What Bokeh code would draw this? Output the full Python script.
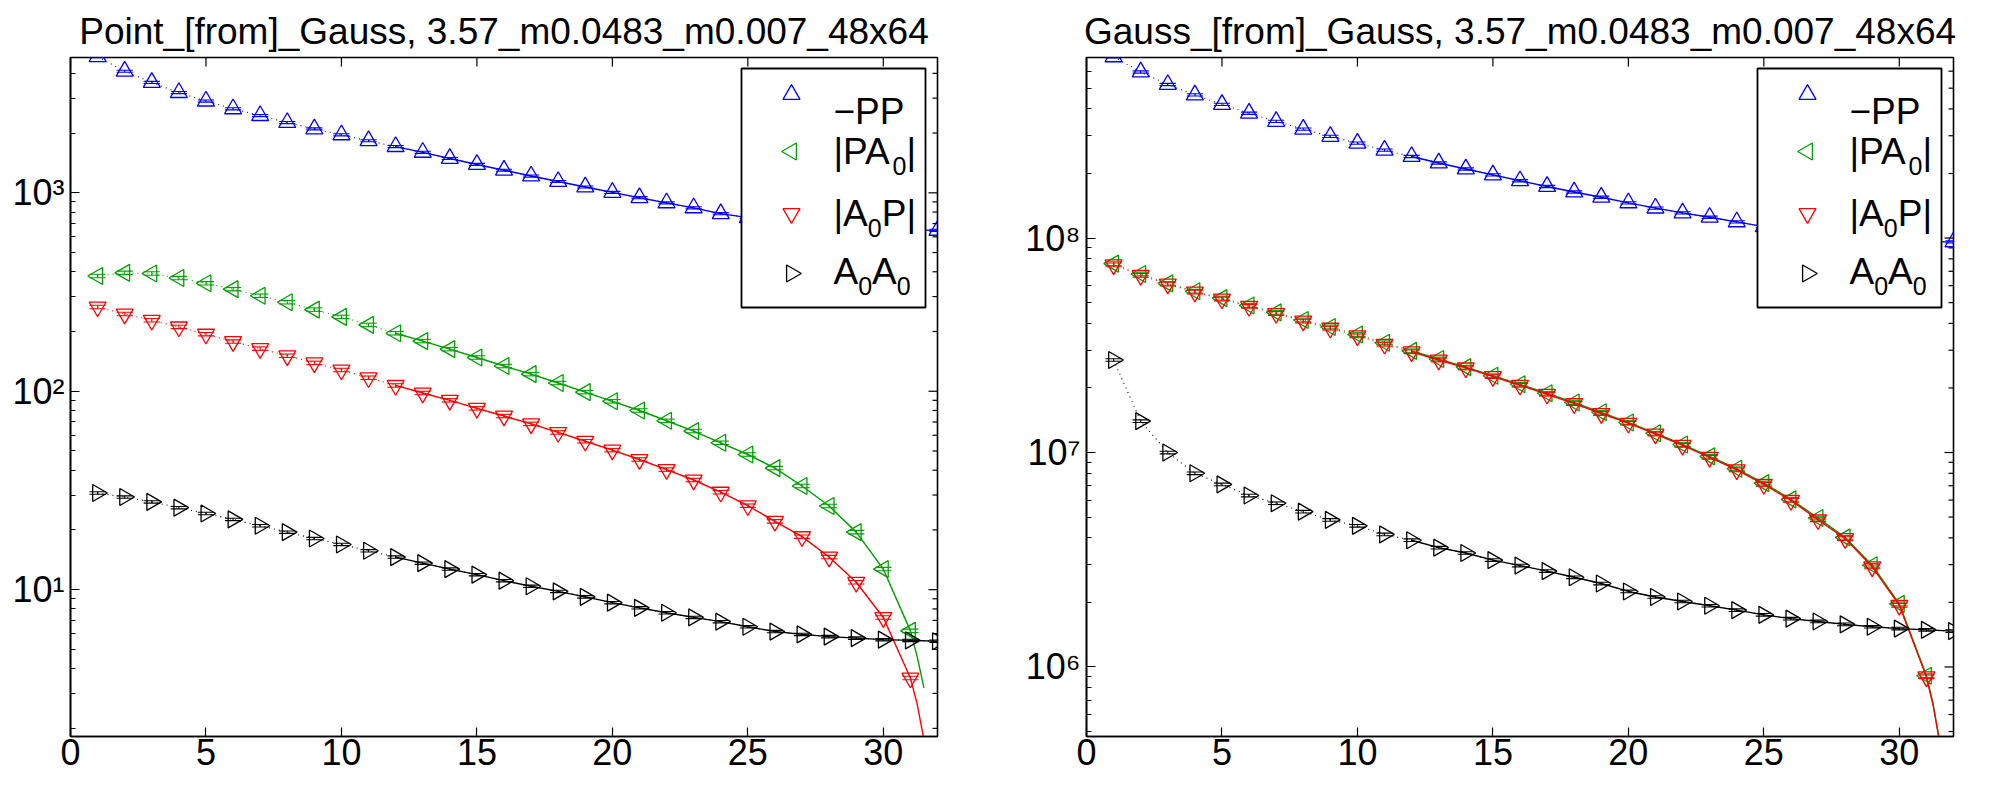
import numpy as np
from bokeh.plotting import figure
from bokeh.models import Range1d, FixedTicker, BoxAnnotation, CustomJSTickFormatter
from bokeh.core.properties import value
from bokeh.layouts import row
from bokeh.embed import file_html
from bokeh.resources import INLINE

# ---------------- data ----------------
t32 = list(range(1, 33))
t31 = list(range(1, 32))
x_ticks = [0, 5, 10, 15, 20, 25, 30]
x_max = 32

# legend labels: pieces of (text, is_subscript)
leg_labels = [
    [("\u2212PP", False)],
    [("|PA", False), ("0", True), ("|", False)],
    [("|A", False), ("0", True), ("P|", False)],
    [("A", False), ("0", True), ("A", False), ("0", True)],
]

# Left panel: Point_[from]_Gauss
L_title = "Point_[from]_Gauss, 3.57_m0.0483_m0.007_48x64"
L_ylim = (1.82, 4808)
L_yticks = [10, 100, 1000]
L_pp = [4850, 4100, 3600, 3200, 2900, 2650, 2450, 2260, 2100, 1960, 1830, 1710, 1600, 1490,
        1390, 1300, 1215, 1140, 1070, 1005, 945, 890, 840, 785, 750, 722, 698, 680, 666, 656,
        650, 647]
L_pa0 = [381, 395, 392, 372, 350, 327, 303, 281, 258, 237, 216, 196, 179, 163, 148, 134, 122,
         110, 99, 89, 80, 71, 63, 55, 48, 41, 33.3, 26.4, 19.5, 12.7, 6.2]
L_a0p = [266, 245, 228, 211, 194, 178, 164, 151, 139, 128, 117, 107, 98, 90, 82, 75, 68.5, 62,
         56, 50.5, 45.3, 40.3, 35.7, 31, 26.5, 22.1, 18.5, 14.6, 10.9, 7.24, 3.59]
L_a0a0 = [30.7, 29.3, 27.7, 25.9, 24.2, 22.6, 21.0, 19.5, 18.1, 16.9, 15.7, 14.6, 13.6, 12.7,
          11.9, 11.1, 10.4, 9.8, 9.2, 8.6, 8.1, 7.65, 7.25, 6.9, 6.5, 6.15, 5.95, 5.8, 5.7, 5.6,
          5.55, 5.5]
# fit curves
fit_t_cosh = list(range(12, 33))
fit_t_sinh = list(range(12, 32)) + [31.25, 31.5]
L_pp_fit = L_pp[11:]
L_a0a0_fit = L_a0a0[11:]
L_pa0_fit = L_pa0[11:] + [4.6, 3.2]
L_a0p_fit = L_a0p[11:] + [2.65, 1.75]

# Right panel: Gauss_[from]_Gauss
R_title = "Gauss_[from]_Gauss, 3.57_m0.0483_m0.007_48x64"
R_ylim = (4.74e5, 6.95e8)
R_yticks = [1e6, 1e7, 1e8]
R_pp = [7.0e8, 5.95e8, 5.2e8, 4.65e8, 4.2e8, 3.82e8, 3.5e8, 3.22e8, 2.98e8, 2.77e8, 2.57e8,
        2.4e8, 2.24e8, 2.1e8, 1.97e8, 1.85e8, 1.74e8, 1.64e8, 1.55e8, 1.46e8, 1.38e8, 1.31e8,
        1.25e8, 1.19e8, 1.13e8, 1.083e8, 1.045e8, 1.015e8, 9.9e7, 9.74e7, 9.63e7, 9.6e7]
R_pa0 = [7.6e7, 6.8e7, 6.15e7, 5.65e7, 5.25e7, 4.85e7, 4.5e7, 4.15e7, 3.85e7, 3.55e7, 3.25e7,
         2.98e7, 2.73e7, 2.5e7, 2.28e7, 2.08e7, 1.89e7, 1.71e7, 1.54e7, 1.38e7, 1.23e7, 1.09e7,
         9.6e6, 8.4e6, 7.2e6, 6.05e6, 4.95e6, 4.02e6, 2.98e6, 1.97e6, 9.1e5]
R_a0p = [7.5e7, 6.7e7, 6.1e7, 5.6e7, 5.2e7, 4.8e7, 4.45e7, 4.1e7, 3.8e7, 3.5e7, 3.2e7, 2.95e7,
         2.7e7, 2.48e7, 2.26e7, 2.06e7, 1.87e7, 1.69e7, 1.52e7, 1.37e7, 1.22e7, 1.08e7, 9.5e6,
         8.3e6, 7.1e6, 5.98e6, 4.86e6, 3.97e6, 2.93e6, 1.94e6, 9.0e5]
R_a0a0 = [2.7e7, 1.4e7, 1.0e7, 8.0e6, 7.1e6, 6.3e6, 5.8e6, 5.3e6, 4.85e6, 4.55e6, 4.15e6, 3.9e6,
          3.6e6, 3.4e6, 3.15e6, 2.97e6, 2.8e6, 2.62e6, 2.45e6, 2.25e6, 2.12e6, 2.02e6, 1.93e6,
          1.84e6, 1.75e6, 1.68e6, 1.63e6, 1.58e6, 1.54e6, 1.51e6, 1.49e6, 1.47e6]
R_pp_fit = R_pp[11:]
R_a0a0_fit = R_a0a0[11:]
R_pa0_fit = R_pa0[11:] + [6.7e5, 4.4e5]
R_a0p_fit = R_a0p[11:] + [6.6e5, 4.4e5]

# relative statistical errors (error-bar half heights)
err_pp, err_pa0, err_a0p, err_a0a0 = 0.012, 0.02, 0.02, 0.014

# ---------------- styling / geometry ----------------
FONT = "Liberation Sans"
BLUE, GREEN, RED, BLACK = "#0000ff", "#00a000", "#ff0000", "#000000"
FIG_H, B_TOP, B_BOT = 780, 57, 44
FW = 867
FH = FIG_H - B_TOP - B_BOT
# advance widths (em) of Liberation Sans for the legend pieces
ADV = {"|": 0.26, "P": 0.667, "A": 0.667, "0": 0.556, "\u2212": 0.584}
LEG_MAIN, LEG_SUB = 37, 25

SUP = CustomJSTickFormatter(code="""
const sup = {"-":"\u207b","0":"\u2070","1":"\u00b9","2":"\u00b2","3":"\u00b3","4":"\u2074",
             "5":"\u2075","6":"\u2076","7":"\u2077","8":"\u2078","9":"\u2079"};
const e = Math.round(Math.log10(tick));
return "10" + String(e).split("").map(c => sup[c]).join("");
""")


def minor_ticks(lo, hi):
    out = []
    for k in range(int(np.floor(np.log10(lo))), int(np.ceil(np.log10(hi))) + 1):
        for m in range(2, 10):
            v = m * 10.0 ** k
            if lo <= v <= hi:
                out.append(v)
    return out


def style_axis(ax):
    ax.axis_line_color = "black"
    ax.axis_line_width = 1.6
    ax.major_tick_line_color = "black"
    ax.minor_tick_line_color = "black"
    ax.major_tick_line_width = 1.2
    ax.minor_tick_line_width = 1.2
    ax.major_tick_in = 9
    ax.major_tick_out = 0
    ax.minor_tick_in = 5
    ax.minor_tick_out = 0
    ax.major_label_text_font = FONT
    ax.major_label_text_color = "black"
    ax.major_label_text_font_size = "36px"


def errorbars(p, t, v, rel, color):
    t = np.asarray(t, float)
    v = np.asarray(v, float)
    lo, hi = v * (1 - rel), v * (1 + rel)
    p.segment(t, lo, t, hi, line_color=color, line_width=1.1)
    p.segment(t - 0.3, lo, t + 0.3, lo, line_color=color, line_width=1.1)
    p.segment(t - 0.3, hi, t + 0.3, hi, line_color=color, line_width=1.1)


def panel(title, ylim, yticks, pp, pa0, a0p, a0a0, pp_fit, pa0_fit, a0p_fit, a0a0_fit,
          width, bl, br):
    lo, hi = np.log10(ylim[0]), np.log10(ylim[1])

    def X(dx):          # pixels from the frame's left edge -> data x
        return x_max * dx / FW

    def Y(dy):          # pixels from the frame's top edge -> data y (log axis)
        return 10 ** (hi - dy / FH * (hi - lo))

    p = figure(width=width, height=FIG_H, output_backend="svg", toolbar_location=None,
               y_axis_type="log", x_range=Range1d(0, x_max), y_range=Range1d(*ylim),
               min_border_left=bl, min_border_right=br, min_border_top=B_TOP,
               min_border_bottom=B_BOT)
    p.title.text = title
    p.title.text_font = FONT
    p.title.text_font_size = "37px"
    p.title.text_font_style = "normal"
    p.title.text_color = "black"
    p.title.align = "center"
    p.title.standoff = 12
    p.grid.visible = False
    p.outline_line_color = "black"
    p.outline_line_width = 1.6
    p.outline_line_alpha = 1.0
    p.background_fill_color = "white"
    p.border_fill_color = "white"

    p.xaxis.ticker = FixedTicker(ticks=x_ticks, minor_ticks=[])
    p.yaxis.ticker = FixedTicker(ticks=yticks, minor_ticks=minor_ticks(*ylim))
    p.yaxis.formatter = SUP
    style_axis(p.xaxis[0])
    style_axis(p.yaxis[0])
    p.xaxis.major_label_standoff = 2
    p.yaxis.major_label_standoff = 6

    # mirrored ticks on the top and right edges of the box
    ymaj = list(yticks)
    ymin = minor_ticks(*ylim)
    xt = np.array(x_ticks, float)
    p.segment(xt, Y(0), xt, Y(9), line_color="black", line_width=1.2, level="guide")
    p.segment(X(FW), ymaj, X(FW - 9), ymaj, line_color="black", line_width=1.2, level="guide")
    p.segment(X(FW), ymin, X(FW - 5), ymin, line_color="black", line_width=1.2, level="guide")

    series = [
        (t32, pp, fit_t_cosh, pp_fit, BLUE, "triangle", 0.0, err_pp),
        (t31, pa0, fit_t_sinh, pa0_fit, GREEN, "triangle", np.pi / 2, err_pa0),
        (t31, a0p, fit_t_sinh, a0p_fit, RED, "inverted_triangle", 0.0, err_a0p),
        (t32, a0a0, fit_t_cosh, a0a0_fit, BLACK, "triangle", -np.pi / 2, err_a0a0),
    ]
    for (t, v, ft, fv, color, marker, ang, rel) in series:
        p.line(t, v, line_color=color, line_width=1.1, line_dash="1 4")
        p.line(ft, fv, line_color=color, line_width=1.4)
        errorbars(p, t, v, rel, color)
        p.scatter(t, v, marker=marker, angle=ang, size=17, fill_color=None,
                  line_color=color, line_width=1.3)

    # legend box
    p.add_layout(BoxAnnotation(left=X(FW - 196), right=X(FW - 12), top=Y(11), bottom=Y(250),
                               fill_color="white", fill_alpha=1.0, line_color="black",
                               line_alpha=1.0, line_width=1.8))
    mark_dy = [37, 94, 156, 216]
    base_dy = [54, 94, 156, 214]
    for (t, v, ft, fv, color, marker, ang, rel), pieces, mdy, bdy in zip(
            series, leg_labels, mark_dy, base_dy):
        p.scatter([X(FW - 146)], [Y(mdy)], marker=marker, angle=ang, size=17,
                  fill_color=None, line_color=color, line_width=1.3, level="overlay")
        dx = FW - 104
        for txt, sub in pieces:
            fs = LEG_SUB if sub else LEG_MAIN
            yy = Y(bdy + 14) if sub else Y(bdy)
            p.text([X(dx)], [yy], text=[txt], text_font=value(FONT),
                   text_font_size=value(f"{fs}px"), text_baseline="alphabetic",
                   text_align="left", text_color="black", level="overlay")
            dx += sum(ADV.get(c, 0.556) for c in txt) * fs
    return p


p1 = panel(L_title, L_ylim, L_yticks, L_pp, L_pa0, L_a0p, L_a0a0,
           L_pp_fit, L_pa0_fit, L_a0p_fit, L_a0a0_fit, width=1016, bl=70, br=79)
p2 = panel(R_title, R_ylim, R_yticks, R_pp, R_pa0, R_a0p, R_a0a0,
           R_pp_fit, R_pa0_fit, R_a0p_fit, R_a0a0_fit, width=957, bl=70, br=20)

layout = row(p1, p2)
open("out.html", "w").write(file_html(layout, INLINE))
